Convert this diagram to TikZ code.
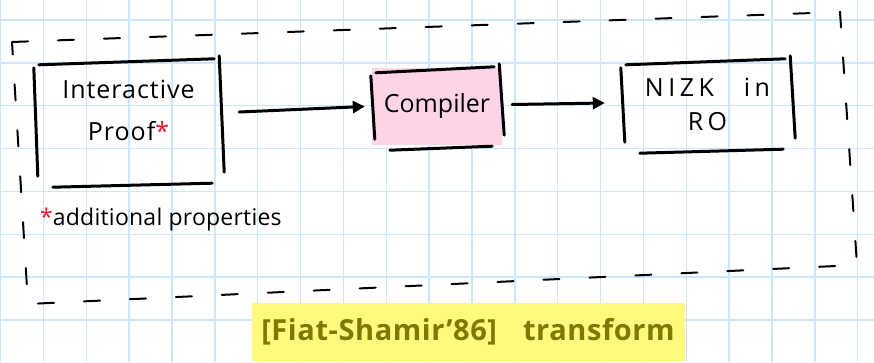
\documentclass[tikz,border=0pt]{standalone}
\usepackage{fontspec}
\setmainfont{Open Sans}
\usetikzlibrary{arrows.meta}

\definecolor{gridblue}{RGB}{204,230,250}
\definecolor{compink}{RGB}{253,212,231}
\definecolor{hlyellow}{RGB}{255,250,125}
\definecolor{fsolive}{RGB}{128,120,0}
\definecolor{starred}{RGB}{232,22,40}

% four loose pen strokes round a node
\newcommand{\penbox}[1]{%
  \draw[penline] ([shift={(4,5)}]#1.north west) -- ([shift={(-8,-1)}]#1.north east);
  \draw[penline] ([shift={(-1,8)}]#1.north west) -- ([shift={(3,-6)}]#1.south west);
  \draw[penline] ([shift={(-3,-4)}]#1.north east) -- ([shift={(2,-10)}]#1.south east);
  \draw[penline] ([shift={(18,5)}]#1.south west) -- ([shift={(-10,1)}]#1.south east);
}

\begin{document}
\begin{tikzpicture}[
  x=1pt, y=-1pt,
  penline/.style={line width=3, line cap=round, black},
  penarrow/.style={line width=3, line cap=round, -{Triangle[length=12pt,width=12pt]}},
  outerdash/.style={line width=2, line cap=round, dash pattern=on 16pt off 30pt},
  gridline/.style={gridblue, line width=1.4},
  boxtext/.style={align=center, inner sep=0pt,
    font=\fontsize{25}{42}\selectfont\addfontfeatures{LetterSpace=4}}
]
\useasboundingbox (0,0) rectangle (874,362);
\fill[white] (0,0) rectangle (874,362);

% Paper grid
\foreach \gx in {0,...,20}
  \draw[gridline] ({0.5+42.86*\gx},0) -- ({0.5+42.86*\gx},362);
\foreach \gy in {0,...,7}
  \draw[gridline] (0,{20+42.86*\gy}) -- (874,{20+42.86*\gy});

% Dashed frame
\draw[outerdash] (12,42) -- (840,12) -- (857,265) -- (28,304) -- cycle;

% Boxes
\node[boxtext, text depth=22pt, minimum width=187, minimum height=122] (ip) at (128.5,121)
  {Interactive\\Proof\textcolor{starred}{*}};
\node[boxtext, fill=compink, minimum width=130, minimum height=77,
      font=\fontsize{25}{30}\selectfont] (comp) at (437,106.5)
  {Compiler};
\node[boxtext, minimum width=171, minimum height=88,
      font=\fontsize{25}{34}\selectfont\addfontfeatures{LetterSpace=18}] (nizk) at (707.5,104)
  {NIZK\hspace{30pt}in\\RO};

\penbox{ip}
\penbox{comp}
\penbox{nizk}

% Arrows
\draw[penarrow] ([shift={(17,-9)}]ip.east) -- ([shift={(-7,0)}]comp.west);
\draw[penarrow] ([shift={(10,-2)}]comp.east) -- ([shift={(-17,-1)}]nizk.west);

% Footnote
\node[anchor=base west, inner sep=0pt,
      font=\fontsize{23}{26}\selectfont\addfontfeatures{LetterSpace=1}] (note) at (40,225)
  {\textcolor{starred}{*}additional properties};

% Highlighted label
\node[fill=hlyellow, text=fsolive, minimum width=433, minimum height=58,
      font=\fontsize{29}{34}\selectfont\bfseries\addfontfeatures{LetterSpace=2}] (fs) at (468,332)
  {[Fiat-Shamir'86]\hspace{26pt}transform};

\end{tikzpicture}
\end{document}
